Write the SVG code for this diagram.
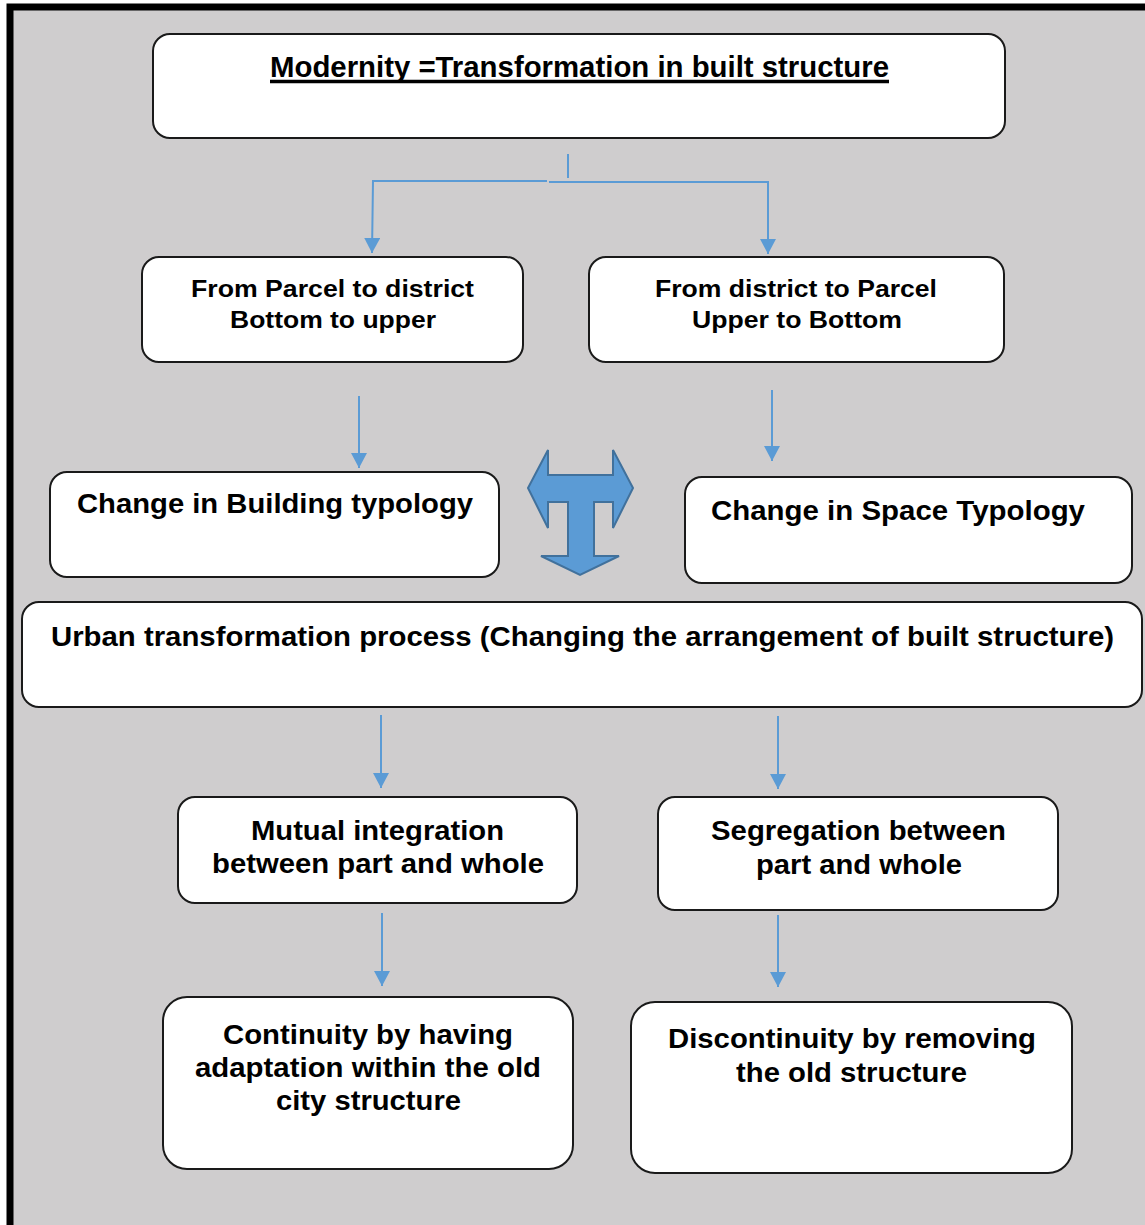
<svg xmlns="http://www.w3.org/2000/svg" width="1145" height="1225" viewBox="0 0 1145 1225">
<defs>
<style>
.box{fill:#ffffff;stroke:#1a1a1a;stroke-width:2}
.t{font-family:"Liberation Sans",Arial,sans-serif;font-weight:bold;fill:#000;text-anchor:middle}
.c{fill:none;stroke:#5b9bd5;stroke-width:2}
</style>
<marker id="arr" markerWidth="16" markerHeight="16" refX="15" refY="8" orient="auto" markerUnits="userSpaceOnUse" viewBox="0 0 16 16">
<path d="M0,0 L15,8 L0,16 Z" fill="#5b9bd5"/>
</marker>
</defs>
<rect x="0" y="0" width="1145" height="1225" fill="#ffffff"/>
<rect x="10" y="7" width="1140" height="1225" fill="#cfcdce" stroke="#000" stroke-width="7"/>

<g id="node-modernity">
<rect class="box" x="153" y="34" width="852" height="104" rx="17"/>
<text class="t" x="579.5" y="77" font-size="29" textLength="619" lengthAdjust="spacingAndGlyphs">Modernity =Transformation in built structure</text>
<line x1="270" y1="81.5" x2="889" y2="81.5" stroke="#000" stroke-width="3.5"/>
</g>

<g id="node-parcel-to-district">
<rect class="box" x="142" y="257" width="381" height="105" rx="17"/>
<text class="t" x="332.5" y="297" font-size="24" textLength="283" lengthAdjust="spacingAndGlyphs">From Parcel to district</text>
<text class="t" x="333" y="328" font-size="24" textLength="206" lengthAdjust="spacingAndGlyphs">Bottom to upper</text>
</g>

<g id="node-district-to-parcel">
<rect class="box" x="589" y="257" width="415" height="105" rx="17"/>
<text class="t" x="796" y="297" font-size="24" textLength="282" lengthAdjust="spacingAndGlyphs">From district to Parcel</text>
<text class="t" x="797" y="328" font-size="24" textLength="210" lengthAdjust="spacingAndGlyphs">Upper to Bottom</text>
</g>

<g id="node-building-typology">
<rect class="box" x="50" y="472" width="449" height="105" rx="17"/>
<text class="t" x="275" y="513" font-size="27" textLength="396" lengthAdjust="spacingAndGlyphs">Change in Building typology</text>
</g>

<g id="node-space-typology">
<rect class="box" x="685" y="477" width="447" height="106" rx="17"/>
<text class="t" x="898" y="520" font-size="27" textLength="374" lengthAdjust="spacingAndGlyphs">Change in Space Typology</text>
</g>

<g id="node-t-arrow">
<polygon points="548,450 548,475 613,475 613,450 633,488 613,528 613,502 594,502 594,556 619,556 580,575 541,556 568,556 568,502 548,502 548,528 528,488" fill="#5b9bd5" stroke="#41719c" stroke-width="2" stroke-linejoin="miter"/>
</g>

<g id="node-urban-transformation">
<rect class="box" x="22" y="602" width="1120" height="105" rx="17"/>
<text class="t" x="582.5" y="646" font-size="27" textLength="1063" lengthAdjust="spacingAndGlyphs">Urban transformation process (Changing the arrangement of built structure)</text>
</g>

<g id="node-mutual-integration">
<rect class="box" x="178" y="797" width="399" height="106" rx="17"/>
<text class="t" x="377.5" y="840" font-size="27" textLength="253" lengthAdjust="spacingAndGlyphs">Mutual integration</text>
<text class="t" x="378" y="873" font-size="27" textLength="332" lengthAdjust="spacingAndGlyphs">between part and whole</text>
</g>

<g id="node-segregation">
<rect class="box" x="658" y="797" width="400" height="113" rx="17"/>
<text class="t" x="858.5" y="840" font-size="27" textLength="295" lengthAdjust="spacingAndGlyphs">Segregation between</text>
<text class="t" x="859" y="874" font-size="27" textLength="206" lengthAdjust="spacingAndGlyphs">part and whole</text>
</g>

<g id="node-continuity">
<rect class="box" x="163" y="997" width="410" height="172" rx="24"/>
<text class="t" x="368" y="1044" font-size="27" textLength="290" lengthAdjust="spacingAndGlyphs">Continuity by having</text>
<text class="t" x="368" y="1077" font-size="27" textLength="346" lengthAdjust="spacingAndGlyphs">adaptation within the old</text>
<text class="t" x="368.5" y="1110" font-size="27" textLength="185" lengthAdjust="spacingAndGlyphs">city structure</text>
</g>

<g id="node-discontinuity">
<rect class="box" x="631" y="1002" width="441" height="171" rx="24"/>
<text class="t" x="852" y="1048" font-size="27" textLength="368" lengthAdjust="spacingAndGlyphs">Discontinuity by removing</text>
<text class="t" x="851.5" y="1082" font-size="27" textLength="231" lengthAdjust="spacingAndGlyphs">the old structure</text>
</g>

<g id="connectors">
<line class="c" x1="568" y1="154" x2="568" y2="178"/>
<polyline class="c" points="547,181 373,181 372,253" marker-end="url(#arr)"/>
<polyline class="c" points="549,182 768,182 768,254" marker-end="url(#arr)"/>
<line class="c" x1="359" y1="396" x2="359" y2="468" marker-end="url(#arr)"/>
<line class="c" x1="772" y1="390" x2="772" y2="461" marker-end="url(#arr)"/>
<line class="c" x1="381" y1="715" x2="381" y2="788" marker-end="url(#arr)"/>
<line class="c" x1="778" y1="716" x2="778" y2="789" marker-end="url(#arr)"/>
<line class="c" x1="382" y1="913" x2="382" y2="986" marker-end="url(#arr)"/>
<line class="c" x1="778" y1="915" x2="778" y2="987" marker-end="url(#arr)"/>
</g>
</svg>
